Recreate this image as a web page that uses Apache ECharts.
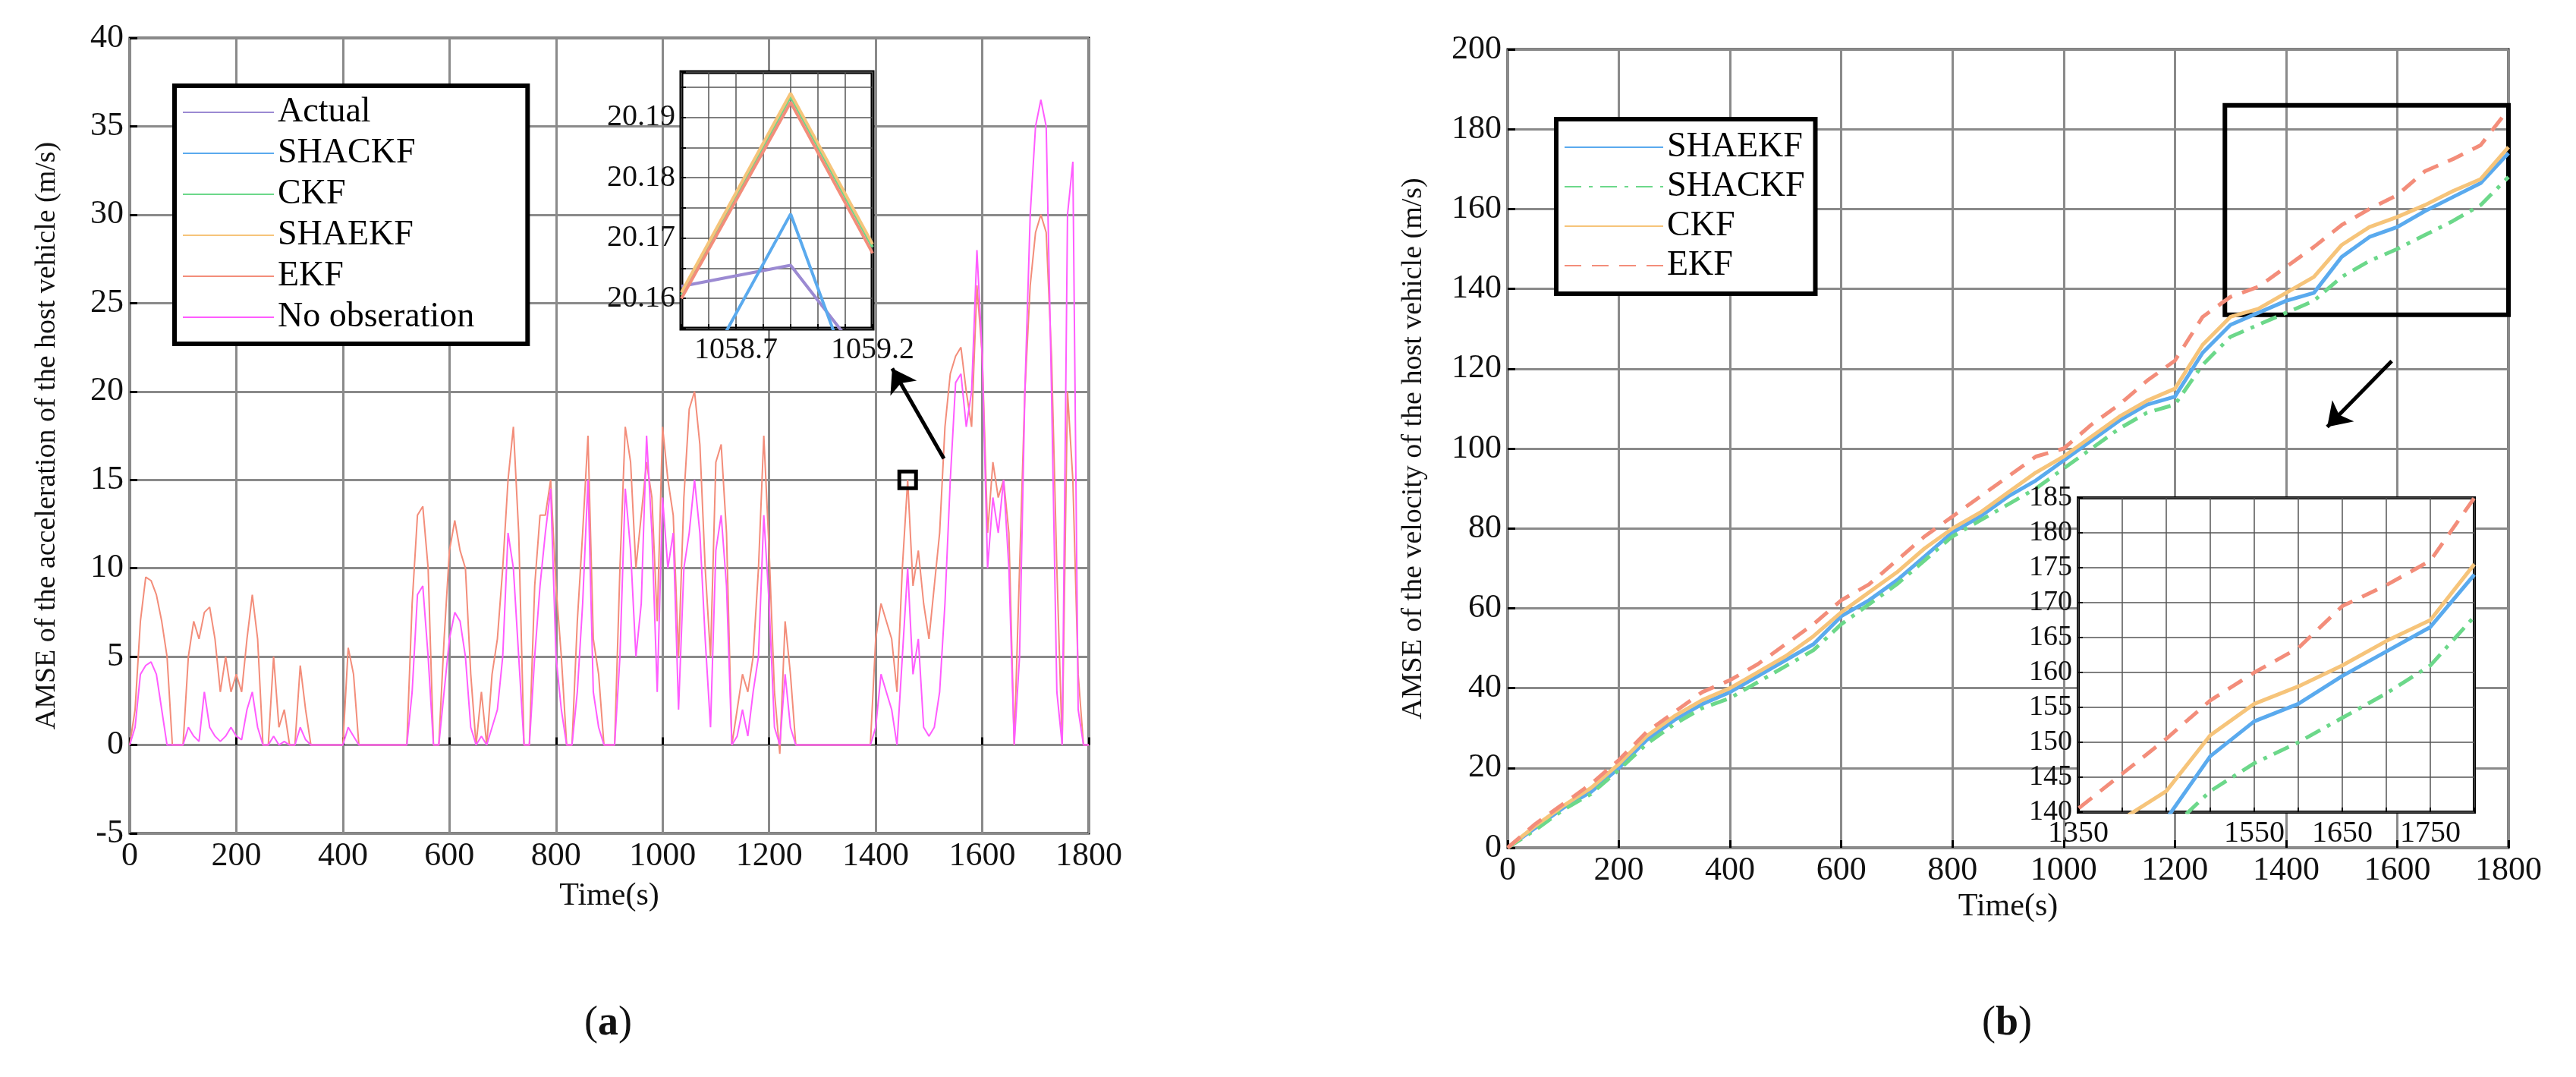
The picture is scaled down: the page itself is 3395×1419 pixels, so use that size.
<!DOCTYPE html>
<html>
<head>
<meta charset="utf-8">
<script src="https://cdn.jsdelivr.net/npm/echarts@6/dist/echarts.min.js"></script>
<style>html,body{margin:0;background:#fff}#c{width:3395px;height:1419px}</style>
</head>
<body>
<div id="c"></div>
<script>
// (a) acceleration AMSE, one value every 10 s from 0 to 1800
const ekfAcc = [
  0, 2, 7, 9.5, 9.3, 8.5, 7, 5, 0, 0,
  0, 5, 7, 6, 7.5, 7.8, 6, 3, 5, 3,
  4, 3, 6, 8.5, 6, 0, 0, 5, 1, 2,
  0, 0, 4.5, 2, 0, 0, 0, 0, 0, 0,
  0, 5.5, 4, 0, 0, 0, 0, 0, 0, 0,
  0, 0, 0, 8, 13, 13.5, 10, 0, 0, 6,
  11, 12.7, 11, 10, 4, 0, 3, 0, 4, 6,
  10, 15, 18, 12, 0, 0, 9, 13, 13, 15,
  9, 5, 0, 0, 7, 12, 17.5, 6, 4, 0,
  0, 0, 10, 18, 16, 10, 13, 16, 14, 7,
  18, 15, 13, 5, 14, 19, 20, 17, 10, 5,
  16, 17, 12, 0, 2, 4, 3, 5, 10, 17.5,
  11, 3, -0.5, 7, 4, 0, 0, 0, 0, 0,
  0, 0, 0, 0, 0, 0, 0, 0, 0, 0,
  6, 8, 7, 6, 3, 10, 15, 9, 11, 8,
  6, 9, 12, 18, 21, 22, 22.5, 20, 18, 26,
  22, 12, 16, 14, 15, 12, 0, 10, 20, 26,
  29, 30, 29, 22, 10, 0, 20, 15, 4, 0,
  0
];
const noObsAcc = [
  0, 1, 4, 4.5, 4.7, 4, 2, 0, 0, 0,
  0, 1, 0.5, 0.2, 3, 1, 0.5, 0.2, 0.5, 1,
  0.5, 0.3, 2, 3, 1, 0, 0, 0.5, 0, 0.2,
  0, 0, 1, 0.3, 0, 0, 0, 0, 0, 0,
  0, 1, 0.5, 0, 0, 0, 0, 0, 0, 0,
  0, 0, 0, 3, 8.5, 9, 5, 0, 0, 3,
  6, 7.5, 7, 5, 1, 0, 0.5, 0, 1, 2,
  5, 12, 10, 5, 0, 0, 5, 9, 12, 14.5,
  5, 2, 0, 0, 3, 8, 15, 3, 1, 0,
  0, 0, 5, 14.5, 11, 5, 8, 17.5, 12, 3,
  14, 10, 12, 2, 10, 12, 15, 12, 6, 1,
  11, 13, 9, 0, 0.5, 2, 0.5, 3, 5, 13,
  8, 1, 0, 4, 1, 0, 0, 0, 0, 0,
  0, 0, 0, 0, 0, 0, 0, 0, 0, 0,
  1, 4, 3, 2, 0, 5, 10, 4, 6, 1,
  0.5, 1, 3, 8, 15, 20.5, 21, 18, 20, 28,
  22, 10, 14, 12, 15, 10, 0, 5, 20, 30,
  35, 36.5, 35, 20, 3, 0, 30, 33, 2, 0,
  0
];
// (a) zoomed detail
const zoomT = [1058.5, 1058.9, 1059.2];
const zActual = [20.162, 20.1655, 20.148];
const zShackf = [20.141, 20.174, 20.137];
const zCkf = [20.1605, 20.1935, 20.1685];
const zShaekf = [20.161, 20.194, 20.169];
const zEkf = [20.160, 20.1925, 20.1675];

// (b) velocity AMSE, one value every 50 s from 0 to 1800
const velT = [0,50,100,150,200,250,300,350,400,450,500,550,600,650,700,750,800,850,900,950,1000,1050,1100,1150,1200,1250,1300,1350,1400,1450,1500,1550,1600,1650,1700,1750,1800];
const vShaekf = [0,5,10,14,20,27,32,36,39,43,47,51,58,62,67,73,79,83,88,92,97,102,107,111,113,124,131,134,137,139,148,153,155.5,159.5,163,166.5,174];
const vShackf = [0,4.5,9.5,13.5,19.5,26,31,35,37.5,41.5,45.5,49.5,56,61,66,72,78,82,86,90,95,100,105,109,111,121,128,131,134,137,143,147,150,153.5,157,161,168];
const vCkf = [0,5.5,10.5,15,21,28,33,37,40,44,48,53,59,64,69,75,80,84,89,94,98,103,108,112,115,126,133,135,139,143,151,155.5,158,161,164.5,167.5,175.5];
const vEkf = [0,6,11,16,22,29,34,39,42,46,51,56,62,66,72,78,83,88,93,98,100,106,111,117,122,133,138,140.5,145.5,150.5,156,160,163.5,169.5,172.5,176,185];

const accT = ekfAcc.map((v, i) => i * 10);
const pair = (xs, ys) => xs.map((x, i) => [x, ys[i]]);

const FONT = 'Liberation Serif';
const GRID_LINE = {show: true, lineStyle: {color: '#8a8a8a', width: 3}};
const INSET_LINE = {show: true, lineStyle: {color: '#555', width: 1.5}};
const tick = {inside: true, length: 10, lineStyle: {color: '#000', width: 3}};

function axisLabel(size, formatter) {
  return {color: '#111', fontFamily: FONT, fontSize: size, formatter: formatter || (v => String(v))};
}

const leftColors = {Actual: '#9b8ad2', SHACKF: '#5aaaee', CKF: '#6cd88a', SHAEKF: '#f6c47a', EKF: '#f38d7a', 'No obseration': '#ff5cff'};
const rightColors = {SHAEKF: '#5aaaee', SHACKF: '#6cd88a', CKF: '#f6c47a', EKF: '#f38d7a'};

const chart = echarts.init(document.getElementById('c'));
chart.setOption({
  backgroundColor: '#fff',
  animation: false,
  textStyle: {fontFamily: FONT},
  grid: [
    {left: 171, top: 50, width: 1264, height: 1048, show: true, borderColor: '#000', borderWidth: 3, z: 0},
    {left: 898, top: 95, width: 252, height: 338, show: true, backgroundColor: '#fff', borderColor: '#000', borderWidth: 5, z: 10},
    {left: 1987, top: 65, width: 1319, height: 1052, show: true, borderColor: '#000', borderWidth: 3, z: 0},
    {left: 2739, top: 656, width: 522, height: 414, show: true, backgroundColor: '#fff', borderColor: '#000', borderWidth: 4, z: 10}
  ],
  xAxis: [
    {gridIndex: 0, type: 'value', min: 0, max: 1800, interval: 200, axisLine: {show: false}, axisTick: tick,
      splitLine: GRID_LINE, axisLabel: axisLabel(44), name: 'Time(s)', nameLocation: 'middle', nameGap: 62,
      nameTextStyle: {fontFamily: FONT, fontSize: 42, color: '#111'}},
    {gridIndex: 1, type: 'value', min: 1058.5, max: 1059.2, interval: 0.1, z: 11, axisLine: {show: false},
      axisTick: {inside: true, length: 6, lineStyle: {color: '#000', width: 2}}, splitLine: INSET_LINE,
      axisLabel: axisLabel(40, v => (Math.abs(v - 1058.7) < 1e-6 || Math.abs(v - 1059.2) < 1e-6) ? v.toFixed(1) : '')},
    {gridIndex: 2, type: 'value', min: 0, max: 1800, interval: 200, axisLine: {show: false}, axisTick: tick,
      splitLine: GRID_LINE, axisLabel: axisLabel(44), name: 'Time(s)', nameLocation: 'middle', nameGap: 48,
      nameTextStyle: {fontFamily: FONT, fontSize: 42, color: '#111'}},
    {gridIndex: 3, type: 'value', min: 1350, max: 1800, interval: 50, z: 11, axisLine: {show: false},
      axisTick: {inside: true, length: 6, lineStyle: {color: '#000', width: 2}}, splitLine: INSET_LINE,
      axisLabel: axisLabel(40, v => [1350, 1550, 1650, 1750].includes(v) ? String(v) : '')}
  ],
  yAxis: [
    {gridIndex: 0, type: 'value', min: -5, max: 40, interval: 5, axisLine: {show: false}, axisTick: tick,
      splitLine: GRID_LINE, axisLabel: axisLabel(44), name: 'AMSE of the acceleration of the host vehicle (m/s)',
      nameLocation: 'middle', nameGap: 90, nameTextStyle: {fontFamily: FONT, fontSize: 38, color: '#111'}},
    {gridIndex: 1, type: 'value', min: 20.155, max: 20.1975, interval: 0.005, z: 11, axisLine: {show: false},
      axisTick: {inside: true, length: 6, lineStyle: {color: '#000', width: 2}}, splitLine: INSET_LINE,
      axisLabel: axisLabel(40, v => Math.round(v * 1000) % 10 === 0 ? v.toFixed(2) : '')},
    {gridIndex: 2, type: 'value', min: 0, max: 200, interval: 20, axisLine: {show: false}, axisTick: tick,
      splitLine: GRID_LINE, axisLabel: axisLabel(44), name: 'AMSE of the velocity of the host vehicle (m/s)',
      nameLocation: 'middle', nameGap: 105, nameTextStyle: {fontFamily: FONT, fontSize: 38, color: '#111'}},
    {gridIndex: 3, type: 'value', min: 140, max: 185, interval: 5, z: 11, axisLine: {show: false},
      axisTick: {inside: true, length: 6, lineStyle: {color: '#000', width: 2}}, splitLine: INSET_LINE,
      axisLabel: axisLabel(38)}
  ],
  legend: [
    {left: 230, top: 113, orient: 'vertical', itemGap: 8, itemWidth: 120, itemHeight: 40,
      padding: [12, 70, 12, 10], borderColor: '#000', borderWidth: 6, backgroundColor: '#fff', z: 12,
      itemStyle: {opacity: 0},
      textStyle: {fontFamily: FONT, fontSize: 46, color: '#000'},
      data: ['Actual', 'SHACKF', 'CKF', 'SHAEKF', 'EKF', 'No obseration']},
    {left: 2051, top: 157, orient: 'vertical', itemGap: 6, itemWidth: 130, itemHeight: 40,
      padding: [14, 14, 14, 10], borderColor: '#000', borderWidth: 6, backgroundColor: '#fff', z: 12,
      itemStyle: {opacity: 0},
      textStyle: {fontFamily: FONT, fontSize: 46, color: '#000'},
      formatter: n => n.replace(' (b)', ''),
      data: ['SHAEKF (b)', 'SHACKF (b)', 'CKF (b)', 'EKF (b)']}
  ],
  series: [
    // (a) main
    {name: 'EKF', type: 'line', xAxisIndex: 0, yAxisIndex: 0, symbol: 'none', data: pair(accT, ekfAcc),
      lineStyle: {color: leftColors.EKF, width: 2}, itemStyle: {color: leftColors.EKF},
      markPoint: {symbol: 'rect', symbolSize: 22, silent: true, label: {show: false},
        itemStyle: {color: 'rgba(0,0,0,0)', borderColor: '#000', borderWidth: 5},
        data: [{coord: [1460, 15]}]},
      markLine: {silent: true, symbol: ['none', 'arrow'], symbolSize: 30, label: {show: false},
        lineStyle: {color: '#000', width: 5, type: 'solid'},
        data: [[{coord: [1528, 16.2]}, {coord: [1431, 21.3]}]]}},
    {name: 'No obseration', type: 'line', xAxisIndex: 0, yAxisIndex: 0, symbol: 'none', data: pair(accT, noObsAcc),
      lineStyle: {color: leftColors['No obseration'], width: 2}, itemStyle: {color: leftColors['No obseration']}},
    // (a) inset
    {name: 'Actual', type: 'line', xAxisIndex: 1, yAxisIndex: 1, symbol: 'none', z: 12, data: pair(zoomT, zActual),
      lineStyle: {color: leftColors.Actual, width: 4}, itemStyle: {color: leftColors.Actual}},
    {name: 'SHACKF', type: 'line', xAxisIndex: 1, yAxisIndex: 1, symbol: 'none', z: 12, data: pair(zoomT, zShackf),
      lineStyle: {color: leftColors.SHACKF, width: 4}, itemStyle: {color: leftColors.SHACKF}},
    {name: 'CKF', type: 'line', xAxisIndex: 1, yAxisIndex: 1, symbol: 'none', z: 12, data: pair(zoomT, zCkf),
      lineStyle: {color: leftColors.CKF, width: 4}, itemStyle: {color: leftColors.CKF}},
    {name: 'SHAEKF', type: 'line', xAxisIndex: 1, yAxisIndex: 1, symbol: 'none', z: 12, data: pair(zoomT, zShaekf),
      lineStyle: {color: leftColors.SHAEKF, width: 4}, itemStyle: {color: leftColors.SHAEKF}},
    {name: 'EKF', type: 'line', xAxisIndex: 1, yAxisIndex: 1, symbol: 'none', z: 12, data: pair(zoomT, zEkf),
      lineStyle: {color: leftColors.EKF, width: 4}, itemStyle: {color: leftColors.EKF}},
    // (b) main
    {name: 'SHAEKF (b)', type: 'line', xAxisIndex: 2, yAxisIndex: 2, symbol: 'none', data: pair(velT, vShaekf),
      lineStyle: {color: rightColors.SHAEKF, width: 5}, itemStyle: {color: rightColors.SHAEKF}},
    {name: 'SHACKF (b)', type: 'line', xAxisIndex: 2, yAxisIndex: 2, symbol: 'none', data: pair(velT, vShackf),
      lineStyle: {color: rightColors.SHACKF, width: 5, type: [22, 10, 5, 10]}, itemStyle: {color: rightColors.SHACKF}},
    {name: 'CKF (b)', type: 'line', xAxisIndex: 2, yAxisIndex: 2, symbol: 'none', data: pair(velT, vCkf),
      lineStyle: {color: rightColors.CKF, width: 5}, itemStyle: {color: rightColors.CKF}},
    {name: 'EKF (b)', type: 'line', xAxisIndex: 2, yAxisIndex: 2, symbol: 'none', data: pair(velT, vEkf),
      lineStyle: {color: rightColors.EKF, width: 5, type: [22, 14]}, itemStyle: {color: rightColors.EKF},
      markArea: {silent: true, itemStyle: {color: 'rgba(0,0,0,0)', borderColor: '#000', borderWidth: 6},
        data: [[{coord: [1290, 186]}, {coord: [1800, 133.5]}]]},
      markLine: {silent: true, symbol: ['none', 'arrow'], symbolSize: 30, label: {show: false},
        lineStyle: {color: '#000', width: 5, type: 'solid'},
        data: [[{coord: [1590, 121.9]}, {coord: [1474, 105.4]}]]}},
    // (b) inset
    {name: 'SHAEKF (b)', type: 'line', xAxisIndex: 3, yAxisIndex: 3, symbol: 'none', z: 12, data: pair(velT, vShaekf),
      lineStyle: {color: rightColors.SHAEKF, width: 5}, itemStyle: {color: rightColors.SHAEKF}},
    {name: 'SHACKF (b)', type: 'line', xAxisIndex: 3, yAxisIndex: 3, symbol: 'none', z: 12, data: pair(velT, vShackf),
      lineStyle: {color: rightColors.SHACKF, width: 5, type: [22, 10, 5, 10]}, itemStyle: {color: rightColors.SHACKF}},
    {name: 'CKF (b)', type: 'line', xAxisIndex: 3, yAxisIndex: 3, symbol: 'none', z: 12, data: pair(velT, vCkf),
      lineStyle: {color: rightColors.CKF, width: 5}, itemStyle: {color: rightColors.CKF}},
    {name: 'EKF (b)', type: 'line', xAxisIndex: 3, yAxisIndex: 3, symbol: 'none', z: 12, data: pair(velT, vEkf),
      lineStyle: {color: rightColors.EKF, width: 5, type: [22, 14]}, itemStyle: {color: rightColors.EKF}}
  ],
  graphic: [
    {type: 'text', left: 770, top: 1322, style: {text: '({b|a})', fontFamily: FONT, fontSize: 54, fill: '#111',
      rich: {b: {fontFamily: FONT, fontSize: 54, fontWeight: 'bold'}}}},
    {type: 'text', left: 2612, top: 1322, style: {text: '({b|b})', fontFamily: FONT, fontSize: 54, fill: '#111',
      rich: {b: {fontFamily: FONT, fontSize: 54, fontWeight: 'bold'}}}}
  ]
});
</script>
</body>
</html>
